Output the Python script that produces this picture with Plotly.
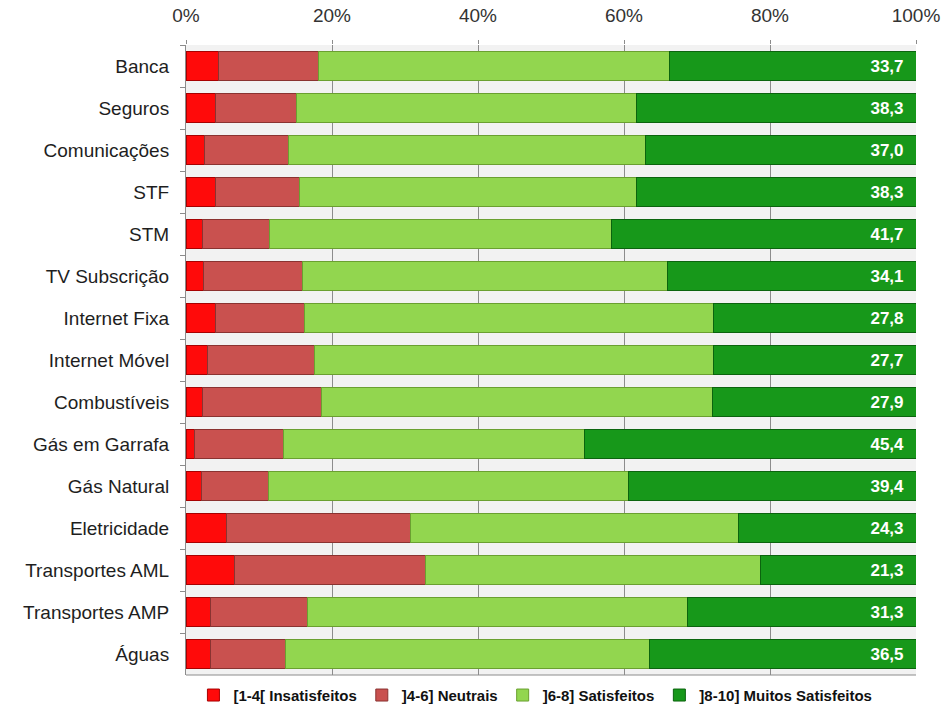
import plotly.graph_objects as go

categories = [
    "Banca", "Seguros", "Comunicações", "STF", "STM", "TV Subscrição",
    "Internet Fixa", "Internet Móvel", "Combustíveis", "Gás em Garrafa",
    "Gás Natural", "Eletricidade", "Transportes AML", "Transportes AMP", "Águas",
]
insatisfeitos = [4.4, 4.0, 2.6, 4.1, 2.2, 2.4, 4.1, 3.0, 2.3, 1.2, 2.1, 5.5, 6.6, 3.3, 3.4]
neutrais = [13.7, 11.2, 11.4, 11.5, 9.3, 13.6, 12.2, 14.6, 16.3, 12.1, 9.2, 25.3, 26.2, 13.4, 10.2]
satisfeitos = [48.2, 46.5, 49.0, 46.1, 46.8, 49.9, 55.9, 54.7, 53.5, 41.3, 49.3, 44.9, 45.9, 52.0, 49.9]
muito_satisfeitos = [33.7, 38.3, 37.0, 38.3, 41.7, 34.1, 27.8, 27.7, 27.9, 45.4, 39.4, 24.3, 21.3, 31.3, 36.5]

series_names = ["[1-4[ Insatisfeitos", "]4-6] Neutrais", "]6-8] Satisfeitos", "]8-10] Muitos Satisfeitos"]
series_values = [insatisfeitos, neutrais, satisfeitos, muito_satisfeitos]

pct_ticks = [0, 20, 40, 60, 80, 100]
pct_labels = ["0%", "20%", "40%", "60%", "80%", "100%"]

fill_colors = ["#FF0A0A", "#C9514F", "#92D64F", "#17981A"]
edge_colors = ["#A80000", "#8A3331", "#6AA030", "#0B640E"]
FONT = "Liberation Sans, Arial, sans-serif"

fig = go.Figure()
for i, (name, vals) in enumerate(zip(series_names, series_values)):
    is_last = i == len(series_names) - 1
    fig.add_trace(go.Bar(
        y=categories,
        x=vals,
        name=name,
        orientation="h",
        marker=dict(color=fill_colors[i], line=dict(color=edge_colors[i], width=1)),
        text=vals if is_last else None,
        texttemplate="<b>%{x:.1f}</b>\u00a0\u00a0" if is_last else None,
        textposition="inside" if is_last else "none",
        insidetextanchor="end",
        textfont=dict(family=FONT, size=17, color="white"),
        hoverinfo="x+y+name",
    ))

fig.update_layout(
    barmode="stack",
    bargap=0.29,
    separators=",.",
    width=946,
    height=722,
    margin=dict(l=186, r=30, t=45, b=47, autoexpand=False),
    paper_bgcolor="white",
    plot_bgcolor="#F2F2F2",
    font=dict(family=FONT, size=19, color="#1E1E1E"),
    uniformtext=dict(minsize=10, mode="show"),
    legend=dict(
        orientation="h",
        xref="container",
        yref="container",
        x=0.566, xanchor="center",
        y=0.037, yanchor="middle",
        font=dict(family=FONT, size=15, color="#111111", weight="bold"),
        bgcolor="rgba(255,255,255,0)",
        traceorder="normal",
        itemwidth=30,
    ),
    xaxis=dict(
        side="top",
        range=[0, 100],
        tickmode="array",
        tickvals=pct_ticks,
        ticktext=pct_labels,
        tickangle=0,
        showgrid=True,
        gridcolor="#8C8C8C",
        gridwidth=1,
        zeroline=False,
        showline=False,
        ticks="outside",
        ticklen=4,
        tickcolor="#8C8C8C",
        ticklabelstandoff=10,
        tickfont=dict(family=FONT, size=19, color="#333333"),
    ),
    yaxis=dict(
        autorange="reversed",
        showline=True,
        linecolor="#8C8C8C",
        linewidth=1,
        ticks="outside",
        tickson="boundaries",
        ticklen=5,
        tickcolor="#8C8C8C",
        ticklabelstandoff=12,
        tickfont=dict(family=FONT, size=19, color="#1E1E1E"),
        showgrid=False,
    ),
)

# baseline along the bottom of the plotting area
fig.add_shape(type="line", xref="paper", yref="paper", x0=0, x1=1, y0=0, y1=0,
              line=dict(color="#8C8C8C", width=1))

fig.write_html("out.html")
